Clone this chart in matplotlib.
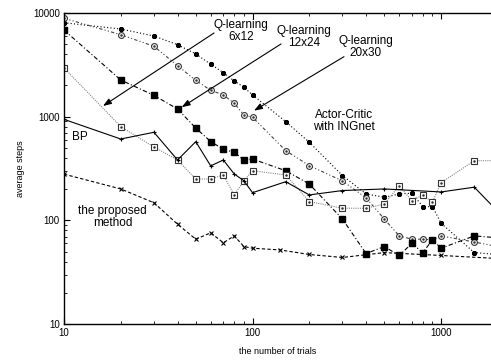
import matplotlib
matplotlib.use("Agg")
import matplotlib.pyplot as plt
from matplotlib.ticker import FixedLocator, FixedFormatter, LogLocator, NullFormatter

plt.rcParams['font.family'] = ['Liberation Sans', 'DejaVu Sans']

# trials axis values
x_full = [10, 20, 30, 40, 50, 60, 70, 80, 90, 100, 150, 200, 300, 400, 500,
          600, 700, 800, 900, 1000, 1500, 2000]

# Q-learning 6x12 (open squares)
q6x12 = [2940, 800, 509, 382, 250, 251, 274, 176, 241, 301, 274, 152, 131, 131,
         144, 216, 155, 176, 150, 231, 376, 376]
# Q-learning 12x24 (filled squares)
q12x24 = [6810, 2250, 1600, 1183, 775, 575, 484, 453, 382, 390, 301, 224, 103,
          48, 56, 46, 60, 49, 65, 54, 71, 68]
# Q-learning 20x30 (open circles)
q20x30 = [8840, 6140, 4750, 3090, 2230, 1790, 1615, 1343, 1035, 985, 470, 337,
          240, 165, 103, 71, 66, 66, 65, 71, 62, 56]
# Actor-Critic with INGnet
actor_critic = [8000, 6960, 5970, 4920, 4010, 3190, 2645, 2203, 1914, 1615, 893,
                566, 270, 180, 167, 180, 183, 136, 136, 94, 49, 47]

# BP
x_bp = [10, 20, 30, 40, 50, 60, 70, 80, 90, 100, 150, 200, 300, 500, 1000, 1500, 2000]
bp = [940, 608, 706, 382, 573, 335, 382, 280, 241, 185, 236, 176, 194, 201, 188, 209, 122]

# the proposed method
x_prop = [10, 20, 30, 40, 50, 60, 70, 80, 90, 100, 140, 200, 300, 500, 1000, 2000]
proposed = [279, 201, 148, 92, 66, 76, 61, 71, 56, 54, 52, 47, 44, 49, 46, 43]

fig = plt.figure(figsize=(4.91, 3.6), dpi=100)
ax = fig.add_axes([64 / 491, 1 - 324.3 / 360, 1 - 64 / 491, (324.3 - 12.7) / 360])

lw = 0.8
ax.plot(x_full, actor_critic, linestyle=(0, (1, 2)), color='black', lw=lw,
        marker=(8, 2, 0), ms=3.6, mew=1.1, mec='black')
ax.plot(x_full, q20x30, linestyle=(0, (3, 2, 1, 2, 1, 2)), color='#444444', lw=lw,
        marker='o', ms=4.2, mfc='white', mec='#333333', mew=0.8)
ax.plot(x_full, q20x30, linestyle='none', marker='.', ms=1.6, color='#333333')
ax.plot(x_full, q12x24, linestyle=(0, (4, 2, 1, 2)), color='black', lw=lw,
        marker='s', ms=4.8, mfc='black', mec='black')
ax.plot(x_full, q6x12, linestyle=(0, (1, 1)), color='#888888', lw=lw,
        marker='s', ms=4.5, mfc='white', mec='#333333', mew=0.8)
ax.plot(x_full, q6x12, linestyle='none', marker='.', ms=1.6, color='#333333')
ax.plot(x_bp, bp, linestyle='-', color='black', lw=lw,
        marker='+', ms=3.5, mew=0.8)
ax.plot(x_prop, proposed, linestyle=(0, (3, 2)), color='black', lw=lw,
        marker='x', ms=3.5, mew=0.8)

ax.set_xscale('log')
ax.set_yscale('log')
ax.set_xlim(10, 1840)
ax.set_ylim(10, 10000)

ax.xaxis.set_major_locator(FixedLocator([10, 100, 1000]))
ax.xaxis.set_major_formatter(FixedFormatter(['10', '100', '1000']))
ax.xaxis.set_minor_locator(LogLocator(base=10, subs=range(2, 10)))
ax.xaxis.set_minor_formatter(NullFormatter())
ax.yaxis.set_major_locator(FixedLocator([10, 100, 1000, 10000]))
ax.yaxis.set_major_formatter(FixedFormatter(['10', '100', '1000', '10000']))
ax.yaxis.set_minor_locator(LogLocator(base=10, subs=range(2, 10)))
ax.yaxis.set_minor_formatter(NullFormatter())

ax.tick_params(which='both', direction='in', top=True, right=False,
               labelsize=7, pad=3)
ax.tick_params(which='major', length=4, width=0.8)
ax.tick_params(which='minor', length=2.5, width=0.6)
ax.spines['right'].set_visible(False)
for s in ['left', 'bottom', 'top']:
    ax.spines[s].set_linewidth(1.0)

ax.set_xlabel('the number of trials', fontsize=6.5, labelpad=6)
ax.set_ylabel('average steps', fontsize=6.5, labelpad=6)

fs = 8.5
arrow = dict(arrowstyle='-|>,head_length=0.5,head_width=0.18', color='black',
             lw=0.8, shrinkA=0, shrinkB=0)
ax.text(86.9, 6670, 'Q-learning\n6x12', fontsize=fs, ha='center', va='center',
        linespacing=1.0)
ax.annotate('', xy=(16.1, 1264), xytext=(62.5, 6380), arrowprops=arrow)
ax.text(187.5, 5840, 'Q-learning\n12x24', fontsize=fs, ha='center', va='center',
        linespacing=1.0)
ax.annotate('', xy=(42.1, 1229), xytext=(141.6, 5000), arrowprops=arrow)
ax.text(397.6, 4625, 'Q-learning\n20x30', fontsize=fs, ha='center', va='center',
        linespacing=1.0)
ax.annotate('', xy=(101.8, 1140), xytext=(305.5, 3772), arrowprops=arrow)
ax.text(305.5, 913, 'Actor-Critic\nwith INGnet', fontsize=fs, ha='center',
        va='center', linespacing=1.0)
ax.text(12.1, 636, 'BP', fontsize=fs, ha='center', va='center')
ax.text(18.1, 108.8, 'the proposed\nmethod', fontsize=fs, ha='center',
        va='center', linespacing=1.0)

fig.savefig('out.png', dpi=100)
